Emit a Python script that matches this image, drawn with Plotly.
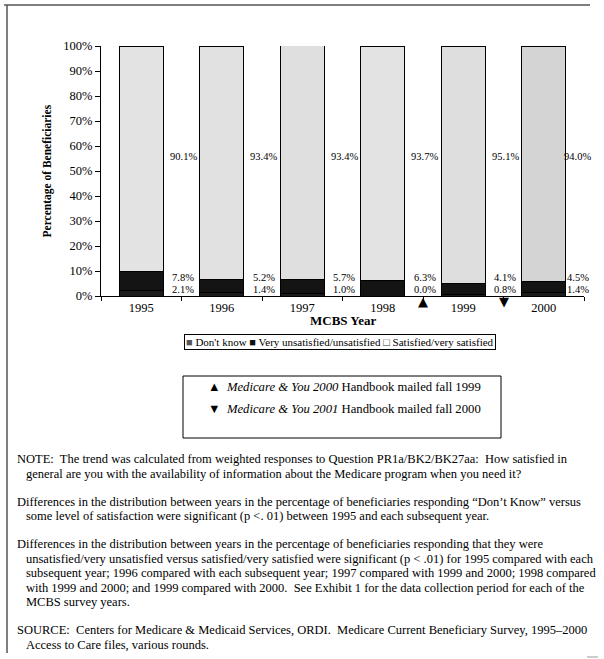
import plotly.graph_objects as go

# ---- data ----
years = ["1995", "1996", "1997", "1998", "1999", "2000"]
dont_know = [2.1, 1.4, 1.0, 0.0, 0.8, 1.4]
unsatisfied = [7.8, 5.2, 5.7, 6.3, 4.1, 4.5]
satisfied = [90.1, 93.4, 93.4, 93.7, 95.1, 94.0]
y_ticks = [0, 10, 20, 30, 40, 50, 60, 70, 80, 90, 100]
y_tick_labels = [f"{v}%" for v in y_ticks]
series_names = ["Don't know", "Very unsatisfied/unsatisfied", "Satisfied/very satisfied"]
handbook_notes = [
    ("▲", "Medicare & You 2000", "Handbook mailed fall 1999"),
    ("▼", "Medicare & You 2001", "Handbook mailed fall 2000"),
]
note_paragraphs = [
    ["NOTE:  The trend was calculated from weighted responses to Question PR1a/BK2/BK27aa:  How satisfied in",
     "general are you with the availability of information about the Medicare program when you need it?"],
    ["Differences in the distribution between years in the percentage of beneficiaries responding “Don’t Know” versus",
     "some level of satisfaction were significant (p <. 01) between 1995 and each subsequent year."],
    ["Differences in the distribution between years in the percentage of beneficiaries responding that they were",
     "unsatisfied/very unsatisfied versus satisfied/very satisfied were significant (p < .01) for 1995 compared with each",
     "subsequent year; 1996 compared with each subsequent year; 1997 compared with 1999 and 2000; 1998 compared",
     "with 1999 and 2000; and 1999 compared with 2000.  See Exhibit 1 for the data collection period for each of the",
     "MCBS survey years."],
    ["SOURCE:  Centers for Medicare & Medicaid Services, ORDI.  Medicare Current Beneficiary Survey, 1995–2000",
     "Access to Care files, various rounds."],
]

W, H = 604, 659
L, R, T, B = 101, 584, 46, 296   # plot area in pixels
SERIF = "Liberation Serif"

def px(x):
    return (x - L) / (R - L)

def py(y):
    return (B - y) / (B - T)

sat_colors = ["#e3e3e3", "#e1e1e1", "#dfdfdf", "#e3e3e3", "#dedede", "#d4d4d4"]

fig = go.Figure()
fig.add_trace(go.Bar(x=years, y=dont_know, name=series_names[0],
                     marker=dict(color="#1c1c1c", line=dict(color="black", width=1))))
fig.add_trace(go.Bar(x=years, y=unsatisfied, name=series_names[1],
                     marker=dict(color="#141414", line=dict(color="black", width=1))))
fig.add_trace(go.Bar(x=years, y=satisfied, name=series_names[2],
                     marker=dict(color=sat_colors, line=dict(color="black", width=1))))

annotations = []
n = len(years)
lab_font = dict(family=SERIF, size=10.5, color="black")
for i in range(n):
    xo = i + 0.52 if i < n - 1 else i + 0.42
    annotations.append(dict(x=xo, y=56, xref="x", yref="y", text=f"{satisfied[i]:.1f}%",
                            showarrow=False, font=lab_font))
    annotations.append(dict(x=xo, y=7.6, xref="x", yref="y", text=f"{unsatisfied[i]:.1f}%",
                            showarrow=False, font=lab_font))
    annotations.append(dict(x=xo, y=2.6, xref="x", yref="y", text=f"{dont_know[i]:.1f}%",
                            showarrow=False, font=lab_font))

# handbook markers on the x axis
annotations.append(dict(x=3.5, y=py(311), xref="x", yref="paper", text="▲", showarrow=False,
                        font=dict(family="DejaVu Sans", size=13, color="black")))
annotations.append(dict(x=4.5, y=py(311), xref="x", yref="paper", text="▼", showarrow=False,
                        font=dict(family="DejaVu Sans", size=13, color="black")))

# axis titles
annotations.append(dict(x=px(38), y=py(171), xref="paper", yref="paper", text="<b>Percentage of Beneficiaries</b>",
                        textangle=-90, showarrow=False, font=dict(family=SERIF, size=11.5, color="black")))
annotations.append(dict(x=px(343), y=py(330), xref="paper", yref="paper", text="<b>MCBS Year</b>",
                        showarrow=False, font=dict(family=SERIF, size=13, color="black")))

# legend box
legend_text = ("<span style='color:#555555'>■</span> " + series_names[0] +
               " <span style='color:#111111'>■</span> " + series_names[1] +
               " <span style='color:#333333'>□</span> " + series_names[2])
annotations.append(dict(x=px(340), y=py(349.5), xref="paper", yref="paper", text=legend_text,
                        showarrow=False, bordercolor="black", borderwidth=1, borderpad=1, bgcolor="white",
                        font=dict(family=SERIF, size=11, color="black")))

# handbook note box text
for k, (sym, ital, rest) in enumerate(handbook_notes):
    yy = 396 + k * 22
    annotations.append(dict(x=px(206), y=py(yy), xref="paper", yref="paper", xanchor="left",
                            text=f"{sym}  <i>{ital}</i> {rest}", showarrow=False,
                            font=dict(family=SERIF, size=12.7, color="black")))

# notes
yline = 459
for p_i, para in enumerate(note_paragraphs):
    for l_i, line in enumerate(para):
        xl = 15 if l_i == 0 else 24
        annotations.append(dict(x=px(xl), y=py(yline), xref="paper", yref="paper", xanchor="left",
                                yanchor="middle", text=line, showarrow=False,
                                font=dict(family=SERIF, size=12.5, color="black")))
        yline += 14.5
    yline += 13.5

shapes = [
    dict(type="line", xref="paper", yref="paper", x0=px(4), x1=px(590), y0=py(5), y1=py(5),
         line=dict(color="#555555", width=1.5)),
    dict(type="line", xref="paper", yref="paper", x0=px(7), x1=px(7), y0=py(5), y1=py(653),
         line=dict(color="#555555", width=1.5)),
    dict(type="rect", xref="paper", yref="paper", x0=px(183), x1=px(501), y0=py(376), y1=py(438),
         line=dict(color="black", width=1)),
    dict(type="line", xref="paper", yref="paper", x0=px(587), x1=px(598), y0=py(657), y1=py(657),
         line=dict(color="#999999", width=1)),
]

fig.update_layout(
    width=W, height=H,
    margin=dict(l=L, r=W - R, t=T, b=H - B, pad=0),
    barmode="stack", bargap=0.455,
    plot_bgcolor="white", paper_bgcolor="white",
    showlegend=False,
    font=dict(family=SERIF, color="black"),
    xaxis=dict(type="category", range=[-0.5, 5.5], showline=True, linecolor="black", linewidth=1,
               ticks="outside", tickson="boundaries", ticklen=4, tickcolor="black",
               tickfont=dict(family=SERIF, size=12.5, color="black"), showgrid=False, zeroline=False),
    yaxis=dict(range=[0, 100], tickmode="array", tickvals=y_ticks, ticktext=y_tick_labels,
               showline=True, linecolor="black", linewidth=1, ticks="outside", ticklen=5,
               tickcolor="black", tickfont=dict(family=SERIF, size=12.5, color="black"),
               showgrid=False, zeroline=False),
    annotations=annotations,
    shapes=shapes,
)

fig.write_html("out.html", config={"displayModeBar": False},
               post_script="document.body.style.margin='0px';")
